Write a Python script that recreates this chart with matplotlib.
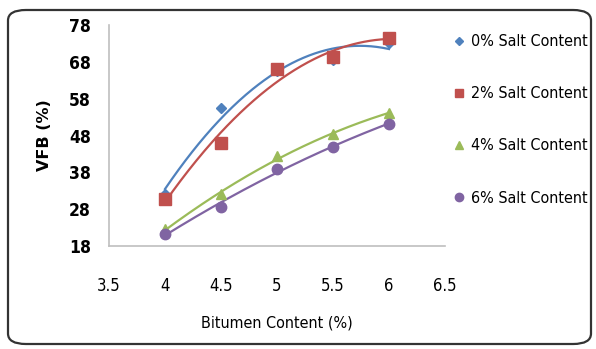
import numpy as np
import matplotlib.pyplot as plt
from matplotlib.patches import FancyBboxPatch
from matplotlib.lines import Line2D

bitumen = [4, 4.5, 5, 5.5, 6]
salt_labels = ['0% Salt Content', '2% Salt Content', '4% Salt Content', '6% Salt Content']
vfb_0 = [32.0, 55.5, 65.5, 68.5, 73.0]
vfb_2 = [30.8, 46.0, 66.0, 69.3, 74.5]
vfb_4 = [22.5, 32.0, 42.3, 48.3, 54.2]
vfb_6 = [21.3, 28.7, 38.9, 44.9, 51.2]
x_ticks = [3.5, 4, 4.5, 5, 5.5, 6, 6.5]
y_ticks = [18, 28, 38, 48, 58, 68, 78]

series = [vfb_0, vfb_2, vfb_4, vfb_6]
colors = ['#4F81BD', '#C0504D', '#9BBB59', '#8064A2']
markers = ['D', 's', '^', 'o']
msizes = [5, 8, 7, 7.5]

fig = plt.figure(figsize=(5.96, 3.49), dpi=100)
ax = fig.add_axes([109 / 596, 1 - 246 / 349, 336 / 596, 221 / 349])

# rounded frame around the whole chart
frame = FancyBboxPatch((8 / 596, 5 / 349), 583 / 596, 334 / 349,
                       boxstyle='round,pad=0,rounding_size=0.03',
                       transform=fig.transFigure, fill=False,
                       edgecolor='#333333', linewidth=1.6)
fig.patches.append(frame)

xs = np.linspace(4, 6, 200)
handles = []
for vals, c, m, ms, lab in zip(series, colors, markers, msizes, salt_labels):
    coef = np.polyfit(bitumen, vals, 2)
    ax.plot(xs, np.polyval(coef, xs), color=c, linewidth=1.6, zorder=2)
    ax.plot(bitumen, vals, linestyle='none', marker=m, color=c,
            markersize=ms, zorder=3)
    handles.append(Line2D([], [], linestyle='none', marker=m, color=c,
                          markersize=ms * 0.8, label=lab))

ax.set_xlim(3.5, 6.5)
ax.set_ylim(18, 78)
ax.set_xticks(x_ticks)
ax.set_xticklabels([f'{t:g}' for t in x_ticks], fontsize=12, fontstretch='condensed')
ax.set_yticks(y_ticks)
ax.set_yticklabels([str(t) for t in y_ticks], fontsize=12.5, fontweight='bold',
                   fontstretch='condensed')
ax.tick_params(length=0)
ax.tick_params(axis='x', pad=22)
ax.tick_params(axis='y', pad=13)
for s in ['top', 'right']:
    ax.spines[s].set_visible(False)
for s in ['left', 'bottom']:
    ax.spines[s].set_color('#BFBFBF')
    ax.spines[s].set_linewidth(1.2)

ax.set_xlabel('Bitumen Content (%)', fontsize=11.5, fontstretch='condensed', labelpad=15)
ax.set_ylabel('VFB (%)', fontsize=11.5, fontweight='bold', labelpad=12)

fig.legend(handles=handles, loc='upper left', bbox_to_anchor=(437 / 596, 1 - 20 / 349),
           frameon=False, prop={'size': 11.5, 'stretch': 'condensed'},
           labelspacing=2.32, handletextpad=0.35, handlelength=0.9)

fig.savefig('out.png', dpi=100)
